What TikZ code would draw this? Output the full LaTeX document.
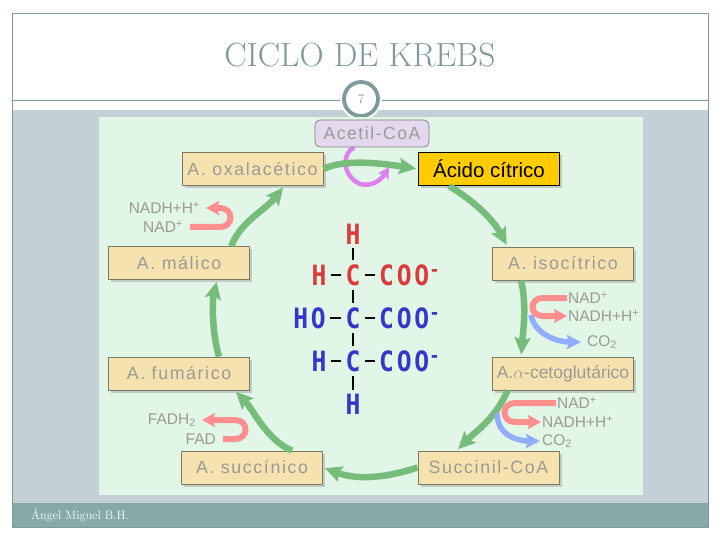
\documentclass[tikz,border=0pt]{standalone}
\usepackage{fontspec}
\usepackage{amsmath}
\usepackage{color,xcolor}
\usetikzlibrary{arrows.meta,shadows}

\newfontfamily\boxfont[LetterSpace=9]{Liberation Sans}
\newfontfamily\tightfont{Liberation Sans}
\newfontfamily\chemfont[LetterSpace=10,FakeStretch=0.88]{DejaVu Sans Mono Bold}

\definecolor{framegray}{HTML}{7F9A9C}
\definecolor{bandgray}{HTML}{C3D0D5}
\definecolor{footgray}{HTML}{86A9A9}
\definecolor{panelgreen}{HTML}{E1F6E7}
\definecolor{boxtan}{HTML}{F5E2AE}
\definecolor{boxedge}{HTML}{7C7A62}
\definecolor{gold}{HTML}{FFCC00}
\definecolor{lilac}{HTML}{E3D8EE}
\definecolor{labelgray}{HTML}{9B9B94}
\definecolor{cyclegreen}{HTML}{78BC7C}
\definecolor{nadpink}{HTML}{FF8F8F}
\definecolor{co2blue}{HTML}{92ACFF}
\definecolor{loopviolet}{HTML}{DD80F0}
\definecolor{chemred}{HTML}{DB3A3A}
\definecolor{chemblue}{HTML}{3338C8}

\tikzset{
    x=1pt, y=-1pt,
    krebsbox/.style={draw=boxedge, fill=boxtan, line width=0.9pt, text=labelgray,
        minimum width=141pt, minimum height=33pt, inner sep=0pt,
        font=\boxfont\fontsize{17.8}{17.8}\selectfont,
        drop shadow={shadow xshift=2.5pt, shadow yshift=-2.5pt, opacity=0.35}},
    cofactor/.style={text=labelgray, inner sep=1pt, font=\tightfont\fontsize{15.5}{15.5}\selectfont},
    chemred/.style={text=chemred, inner sep=1pt, font=\chemfont\fontsize{28}{28}\selectfont},
    chemblue/.style={text=chemblue, inner sep=1pt, font=\chemfont\fontsize{28}{28}\selectfont},
    bond/.style={black, line width=1.8pt, shorten >=3pt, shorten <=3pt},
    cyclearrow/.style={draw=cyclegreen, line width=6.5pt, shorten >=2pt,
        -{Stealth[length=17pt,width=16pt,inset=3pt]}},
    nadarrow/.style={draw=nadpink, line width=6pt, shorten >=5pt, shorten <=6pt,
        -{Stealth[length=13pt,width=14pt,inset=2pt]}},
    co2arrow/.style={draw=co2blue, line width=5.5pt, shorten >=5pt,
        -{Stealth[length=14pt,width=14pt,inset=2pt]}}
}

\begin{document}
\begin{tikzpicture}
    \useasboundingbox (0,0) rectangle (720,540);

    % Slide background
    \fill[white] (0,0) rectangle (720,540);
    \fill[bandgray] (12,110) rectangle (708,503);
    \fill[footgray] (12,503) rectangle (708,527);
    \draw[framegray, line width=0.8pt] (12,13) rectangle (708,527);
    \draw[framegray, line width=0.8pt] (12,100) -- (708,100);

    % Title and page number
    \node[text=framegray, font=\fontsize{33.5}{33.5}\selectfont] (title) at (360,55) {CICLO DE KREBS};
    \fill[white] (361,99) circle (21);
    \node[circle, draw=framegray, line width=3.8pt, fill=white, minimum size=34pt, inner sep=0pt,
        text=framegray, font=\fontsize{13}{13}\selectfont] (page) at (361,99) {7};
    \node[text=white, anchor=west, inner sep=0pt, font=\fontsize{12.2}{12.2}\selectfont] (author) at (31,515) {Ángel Miguel B.H.};

    % Panel
    \fill[panelgreen] (99,117) rectangle (643,495);

    % Boxes of the cycle
    \foreach \nm/\x/\y/\txt in {oxal/252.5/169/A. oxalacético, malico/179/263/A. málico,
        fumarico/179/373.5/A. fumárico, succinico/252/467.5/A. succínico,
        succinil/488.5/467.5/Succinil-CoA, isocit/563/263.5/A. isocítrico} {
        \node[krebsbox] (\nm) at (\x,\y) {\txt};
    }
    \node[krebsbox] (ceto) at (563,373.5) {\tightfont\fontsize{17.5}{17.5}\selectfont A.$\alpha$-cetoglutárico};
    \node[krebsbox, draw=black, fill=gold, text=black] (citrico) at (489,169) {\tightfont\fontsize{20.5}{20.5}\selectfont Ácido cítrico};
    \node[draw=gray, fill=lilac, rounded corners=5pt, text=labelgray, line width=0.7pt,
        minimum width=114pt, minimum height=27pt, inner sep=0pt,
        font=\boxfont\fontsize{17.5}{17.5}\selectfont] (acetil) at (372,133.5) {Acetil-CoA};

    % Loop under acetil
    \draw[draw=loopviolet, line width=4.5pt, -{Stealth[length=11pt,width=12pt,inset=2pt]}]
        (acetil.218) .. controls +(-12,5) and +(-19,-9) .. (360,184) .. controls +(12,3) and +(-8,13) .. (389,167);

    % Arrows of the cycle
    \draw[cyclearrow] (oxal.east) .. controls +(20,-10) and +(-38,-6) .. (citrico.west);
    \draw[cyclearrow] (citrico.203) .. controls +(20,12) and +(-16,-30) .. (isocit.163);
    \draw[cyclearrow] (isocit.202) .. controls +(6,25) and +(2,-25) .. (ceto.158);
    \draw[cyclearrow] (ceto.197) .. controls +(-12,28) and +(20,-20) .. (succinil.152);
    \draw[cyclearrow] (succinil.west) .. controls +(-30,10) and +(35,13) .. (succinico.east);
    \draw[cyclearrow] (succinico.23) .. controls +(-25,-10) and +(18,18) .. (fumarico.343);
    \draw[cyclearrow] (fumarico.23) .. controls +(-7,-25) and +(-5,22) .. (malico.336);
    \draw[cyclearrow] (malico.18) .. controls +(10,-25) and +(-20,25) .. (oxal.332);

    % Cofactors on the left
    \node[cofactor, anchor=east] (nadhA) at (201,208) {NADH+H\textsuperscript{+}};
    \node[cofactor, anchor=east] (nadA) at (184,227) {NAD\textsuperscript{+}};
    \draw[nadarrow] (nadA.east) -- ++(36,0) .. controls +(14,0) and +(14,0) .. ++(0,-19) -- (nadhA.east);
    \node[cofactor, anchor=east] (fadh) at (197,420) {FADH\textsubscript{2}};
    \node[cofactor, anchor=east] (fad) at (217,439) {FAD};
    \draw[nadarrow] (fad.east) -- ++(18,0) .. controls +(14,0) and +(14,0) .. ++(0,-19) -- (fadh.east);

    % Cofactors on the right
    \node[cofactor, anchor=west] (nadB) at (567,298) {NAD\textsuperscript{+}};
    \node[cofactor, anchor=west] (nadhB) at (567,316) {NADH+H\textsuperscript{+}};
    \node[cofactor, anchor=west] (coB) at (586,342) {CO\textsubscript{2}};
    \coordinate (coBstart) at (531,315);
    \draw[co2arrow] (coBstart) .. controls +(4,20) and +(-28,0) .. (coB.west);
    \draw[nadarrow, shorten <=0pt, shorten >=0pt] (nadB.west) -- ++(-24,0) .. controls +(-14,0) and +(-14,0) .. ++(0,18) -- (nadhB.west);

    \node[cofactor, anchor=west] (nadC) at (556,403) {NAD\textsuperscript{+}};
    \node[cofactor, anchor=west] (nadhC) at (541,422) {NADH+H\textsuperscript{+}};
    \node[cofactor, anchor=west] (coC) at (541,441) {CO\textsubscript{2}};
    \coordinate (coCstart) at (497,413);
    \draw[co2arrow, shorten >=1pt] (coCstart) .. controls +(0,22) and +(-24,0) .. (coC.west);
    \draw[nadarrow, shorten <=0pt, shorten >=0pt] (nadC.west) -- ++(-41,0) .. controls +(-14,0) and +(-14,0) .. ++(0,19) -- (nadhC.west);

    % Citrate formula
    \node[chemred] (hTop) at (353,234) {H};
    \node[chemred] (hA) at (319,275) {H};
    \node[chemred] (cA) at (353,275) {C};
    \node[chemred, anchor=west] (cooA) at (378,275) {COO\textsuperscript{-}};
    \node[chemblue, anchor=east] (hoB) at (327,318) {HO};
    \node[chemblue] (cB) at (353,318) {C};
    \node[chemblue, anchor=west] (cooB) at (378,318) {COO\textsuperscript{-}};
    \node[chemblue] (hC) at (319,361) {H};
    \node[chemblue] (cC) at (353,361) {C};
    \node[chemblue, anchor=west] (cooC) at (378,361) {COO\textsuperscript{-}};
    \node[chemblue] (hBot) at (353,404) {H};

    \draw[bond] (hTop) -- (cA);
    \draw[bond] (cA) -- (cB);
    \draw[bond] (cB) -- (cC);
    \draw[bond] (cC) -- (hBot);
    \foreach \p/\q in {hA/cA, hoB/cB, hC/cC, cA/cooA, cB/cooB, cC/cooC} {
        \draw[bond] (\p) -- (\q);
    }
\end{tikzpicture}
\end{document}
